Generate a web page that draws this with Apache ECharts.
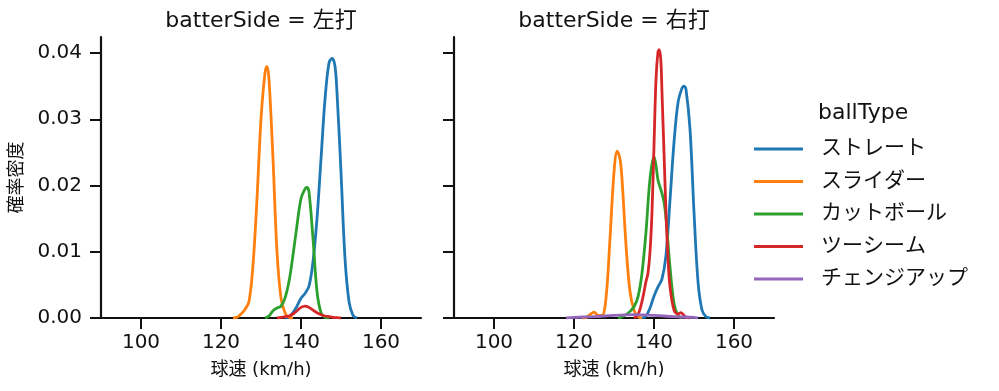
<!DOCTYPE html>
<html><head><meta charset="utf-8">
<script src="https://cdn.jsdelivr.net/npm/echarts@6/dist/echarts.min.js"></script>
<style>html,body{margin:0;padding:0;background:#fff}#c{width:999px;height:391px}</style>
</head><body><div id="c"></div>
<script>
const panelTitles = ['batterSide = 左打', 'batterSide = 右打'];
const ballTypes = ['ストレート', 'スライダー', 'カットボール', 'ツーシーム', 'チェンジアップ'];
const colors = ['#1f77b4', '#ff7f0e', '#2ca02c', '#d62728', '#9467bd'];
const xTicks = [100, 120, 140, 160];
const yTicks = [0, 0.01, 0.02, 0.03, 0.04];

// Left panel (左打)
const L_straight = [[136,0],[137,0.0002],[138,0.0008],[139,0.0018],[140,0.003],[141,0.0037],[142,0.0048],[143,0.0085],[144,0.015],[145,0.024],[146,0.033],[147,0.0385],[147.8,0.0392],[148.5,0.038],[149,0.034],[150,0.022],[151,0.009],[152,0.0025],[153,0.0004],[154,0]];
const L_slider = [[123,0],[124,0.0001],[125,0.0006],[126,0.0013],[127,0.0025],[128,0.008],[129,0.018],[130,0.03],[131,0.037],[131.5,0.038],[132,0.036],[133,0.024],[134,0.01],[135,0.003],[136,0.0008],[137,0.0001],[138,0]];
const L_cutter = [[131,0],[132,0.0003],[133,0.0011],[134,0.0015],[135,0.0018],[136,0.003],[137,0.0055],[138,0.0095],[139,0.014],[140,0.018],[141,0.0195],[141.5,0.0197],[142,0.019],[143,0.012],[144,0.004],[145,0.0008],[146,0.0001],[147,0]];
const L_twoseam = [[134,0],[135,0.0001],[136,0.0002],[137,0.0003],[138,0.0006],[139,0.0011],[140,0.0016],[141,0.0018],[142,0.0016],[143,0.0012],[144,0.0008],[145,0.0005],[146,0.0003],[147,0.0002],[148,0.0001],[149,0.00005],[150,0]];

// Right panel (右打)
const R_straight = [[137,0],[138,0.0003],[139,0.0015],[140,0.0033],[141,0.0047],[142,0.0059],[143,0.0095],[144,0.0178],[145,0.0265],[146,0.0325],[147,0.0347],[147.5,0.035],[148,0.0345],[149,0.0285],[150,0.016],[151,0.0055],[152,0.0012],[153,0.0002],[154,0]];
const R_slider = [[122,0],[123,0.0001],[124,0.0005],[125,0.0009],[126,0.0004],[127,0.0004],[128,0.003],[129,0.012],[130,0.022],[130.8,0.0252],[131.5,0.024],[132,0.021],[133,0.011],[134,0.004],[135,0.0012],[136,0.0002],[137,0]];
const R_cutter = [[131,0],[132,0.0002],[133,0.0005],[134,0.001],[135,0.0017],[136,0.0032],[137,0.0068],[138,0.013],[139,0.021],[140,0.0244],[140.5,0.023],[141,0.0208],[141.5,0.0198],[142,0.0188],[142.5,0.0175],[143,0.015],[144,0.0077],[145,0.0022],[146,0.0004],[147,0]];
const R_twoseam = [[135,0],[136,0.0005],[137,0.0025],[138,0.0055],[138.5,0.0068],[139,0.01],[139.5,0.016],[140,0.026],[140.5,0.036],[141,0.0402],[141.3,0.0405],[141.7,0.039],[142,0.034],[142.5,0.025],[143,0.016],[143.5,0.009],[144,0.0047],[145,0.0012],[146,0.0006],[146.7,0.0008],[147.5,0.0004],[148,0.0001],[149,0]];
const R_changeup = [[118,0],[120,0.0001],[125,0.0002],[130,0.0004],[135,0.0005],[140,0.0004],[145,0.0002],[150,0.0001],[151,0]];

const FONT = '"DejaVu Sans", "Noto Sans CJK JP", sans-serif';
const INK = '#111';

function xAxis(i) {
  return {
    type: 'value', gridIndex: i, min: 90, max: 170,
    name: '球速 (km/h)', nameLocation: 'middle', nameGap: 43,
    nameTextStyle: { fontFamily: FONT, fontSize: 18, color: INK },
    axisLine: { lineStyle: { color: INK, width: 2.2 } },
    axisTick: { length: 11, lineStyle: { width: 2, color: INK }, customValues: xTicks },
    axisLabel: { fontFamily: FONT, fontSize: 20, color: INK, margin: 15, customValues: xTicks },
    splitLine: { show: false }
  };
}
function yAxis(i) {
  return {
    type: 'value', gridIndex: i, min: 0, max: 0.04242,
    name: i === 0 ? '確率密度' : '', nameLocation: 'middle', nameGap: 75,
    nameTextStyle: { fontFamily: FONT, fontSize: 18, color: INK },
    axisLine: { show: true, lineStyle: { color: INK, width: 2.2 } },
    axisTick: { show: true, length: 11, lineStyle: { width: 2, color: INK }, customValues: yTicks },
    axisLabel: { show: i === 0, fontFamily: FONT, fontSize: 20, color: INK, margin: 19,
      customValues: yTicks, formatter: v => v.toFixed(2) },
    splitLine: { show: false }
  };
}
function line(name, data, gi) {
  const idx = ballTypes.indexOf(name);
  return {
    type: 'line', name, data, xAxisIndex: gi, yAxisIndex: gi,
    showSymbol: false, smooth: 0.35, color: colors[idx],
    lineStyle: { width: 2.8, color: colors[idx] }, z: 2, silent: true
  };
}

const chart = echarts.init(document.getElementById('c'), null, { renderer: 'canvas' });
chart.setOption({
  animation: false,
  backgroundColor: '#fff',
  title: [
    { text: panelTitles[0], left: 261, top: 10, padding: 0, textAlign: 'center', textStyle: { fontFamily: FONT, fontSize: 22, fontWeight: 'normal', color: INK } },
    { text: panelTitles[1], left: 614, top: 10, padding: 0, textAlign: 'center', textStyle: { fontFamily: FONT, fontSize: 22, fontWeight: 'normal', color: INK } },
    { text: 'ballType', left: 818, top: 102, padding: 0, textStyle: { fontFamily: FONT, fontSize: 22, fontWeight: 'normal', color: INK } }
  ],
  legend: {
    data: ballTypes, orient: 'vertical', left: 754, top: 138, padding: 0,
    icon: 'rect', itemWidth: 49, itemHeight: 3, itemGap: 10.5,
    textStyle: { fontFamily: FONT, fontSize: 21, color: INK, padding: [0, 0, 0, 13], lineHeight: 22 },
    selectedMode: false
  },
  grid: [
    { left: 101, top: 37, width: 320, height: 281 },
    { left: 454, top: 37, width: 320, height: 281 }
  ],
  xAxis: [xAxis(0), xAxis(1)],
  yAxis: [yAxis(0), yAxis(1)],
  series: [
    line('ストレート', L_straight, 0),
    line('スライダー', L_slider, 0),
    line('カットボール', L_cutter, 0),
    line('ツーシーム', L_twoseam, 0),
    line('ストレート', R_straight, 1),
    line('スライダー', R_slider, 1),
    line('カットボール', R_cutter, 1),
    line('ツーシーム', R_twoseam, 1),
    line('チェンジアップ', R_changeup, 1)
  ]
});
</script></body></html>
